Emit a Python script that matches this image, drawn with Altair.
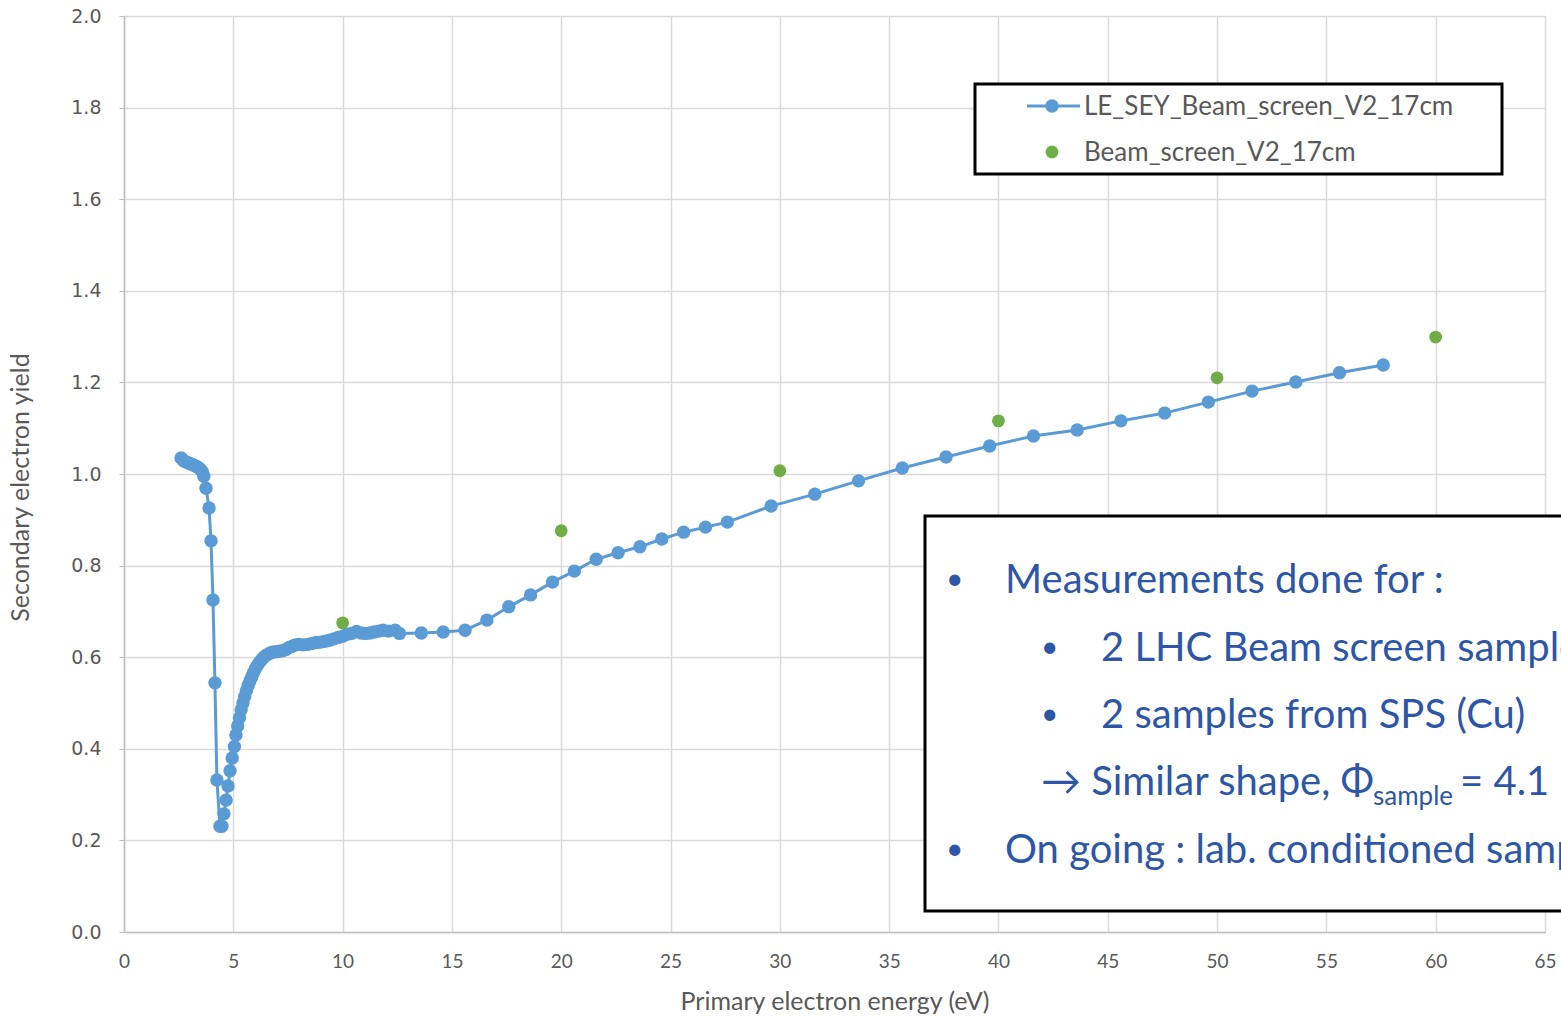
import altair as alt
import pandas as pd

# Low-energy SEY scan (blue, line + markers)
energy_scan = [
    2.61, 2.70, 2.80, 2.90, 3.00, 3.10, 3.20, 3.30, 3.40, 3.50, 3.58, 3.65,
    3.75, 3.89, 3.98, 4.07, 4.16, 4.25, 4.39, 4.48, 4.57, 4.67, 4.76, 4.85,
    4.95, 5.05, 5.12, 5.20, 5.28, 5.36, 5.44, 5.52, 5.60, 5.68, 5.76, 5.84,
    5.92, 6.00, 6.10, 6.20, 6.30, 6.40, 6.50, 6.60, 6.70, 6.80, 6.95, 7.10,
    7.25, 7.40, 7.55, 7.70, 7.85, 8.00, 8.20, 8.40, 8.60, 8.80, 9.00, 9.20,
    9.40, 9.60, 9.80, 10.00, 10.20, 10.40, 10.64, 10.85, 11.05, 11.25, 11.45,
    11.65, 11.85, 12.10, 12.40, 12.60, 13.60, 14.60, 15.60, 16.60, 17.60,
    18.60, 19.60, 20.60, 21.60, 22.60, 23.60, 24.60, 25.60, 26.60, 27.60,
    29.60, 31.60, 33.60, 35.60, 37.60, 39.60, 41.60, 43.60, 45.60, 47.60,
    49.60, 51.60, 53.60, 55.60, 57.60,
]
yield_scan = [
    1.035, 1.030, 1.027, 1.025, 1.023, 1.021, 1.019, 1.017, 1.014, 1.010, 1.005, 0.995,
    0.969, 0.926, 0.854, 0.725, 0.544, 0.332, 0.231, 0.231, 0.258, 0.288, 0.319, 0.352,
    0.380, 0.405, 0.430, 0.450, 0.468, 0.485, 0.500, 0.514, 0.527, 0.538, 0.548, 0.557,
    0.566, 0.574, 0.582, 0.589, 0.595, 0.600, 0.604, 0.607, 0.609, 0.611, 0.612, 0.613,
    0.614, 0.617, 0.621, 0.624, 0.627, 0.628, 0.627, 0.628, 0.630, 0.632, 0.633, 0.635,
    0.637, 0.640, 0.643, 0.646, 0.650, 0.652, 0.656, 0.653, 0.652, 0.653, 0.655,
    0.657, 0.659, 0.657, 0.659, 0.652, 0.653, 0.655, 0.659, 0.681, 0.710,
    0.736, 0.764, 0.788, 0.814, 0.828, 0.841, 0.858, 0.873, 0.884, 0.895,
    0.930, 0.956, 0.985, 1.013, 1.037, 1.061, 1.083, 1.096, 1.116, 1.133,
    1.157, 1.181, 1.201, 1.221, 1.238,
]

# Reference measurements (green markers)
energy_ref = [10, 20, 30, 40, 50, 60]
yield_ref = [0.675, 0.876, 1.007, 1.116, 1.210, 1.299]

series_names = ["LE_SEY_Beam_screen_V2_17cm", "Beam_screen_V2_17cm"]

note_lines = [
    "Measurements done for :",
    "2 LHC Beam screen samples",
    "2 samples from SPS (Cu)",
    "\u2192 Similar shape, \u03a6",
    "sample",
    "= 4.1 \u00b1 0.1 eV",
    "On going : lab. conditioned samples",
]

BLUE = "#5B9BD5"
GREEN = "#70AD47"
NOTE = "#2E56A6"
GREY = "#595959"
W, H = 1421, 916

scan = pd.DataFrame({"E": energy_scan, "Y": yield_scan, "i": range(len(energy_scan))})
ref = pd.DataFrame({"E": energy_ref, "Y": yield_ref})
one = pd.DataFrame({"k": [0]})

x_enc = alt.X(
    "E:Q",
    scale=alt.Scale(domain=[0, 65], nice=False, zero=True),
    axis=alt.Axis(
        values=list(range(0, 66, 5)),
        title="Primary electron energy (eV)",
        titleX=W / 2, titleY=69, titleBaseline="middle",
        labelFont="Lato", labelFontSize=19, labelColor=GREY, labelPadding=20, labelFlush=False,
        titleFont="Lato", titleFontSize=25, titleFontWeight="normal", titleColor=GREY,
        ticks=False, domainColor="#BFBFBF", domainWidth=1.5,
        gridColor="#D9D9D9", gridWidth=1.5,
    ),
)
y_enc = alt.Y(
    "Y:Q",
    scale=alt.Scale(domain=[0, 2], nice=False),
    axis=alt.Axis(
        values=[round(v * 0.2, 1) for v in range(11)],
        format=".1f",
        title="Secondary electron yield",
        titleX=-104, titleY=471, titleAngle=270, titleAlign="center", titleBaseline="middle",
        labelFont="DejaVu Sans", labelFontSize=19, labelColor=GREY, labelPadding=18, labelFlush=False,
        titleFont="Lato", titleFontSize=25, titleFontWeight="normal", titleColor=GREY,
        tickSize=5, tickColor="#BFBFBF", domainColor="#BFBFBF", domainWidth=1.5,
        gridColor="#D9D9D9", gridWidth=1.5,
    ),
)

line = alt.Chart(scan).mark_line(color=BLUE, strokeWidth=3).encode(x=x_enc, y=y_enc, order="i:Q")
pts = alt.Chart(scan).mark_circle(color=BLUE, size=180, opacity=1).encode(x="E:Q", y="Y:Q")
green = alt.Chart(ref).mark_circle(color=GREEN, size=165, opacity=1).encode(x="E:Q", y="Y:Q")

# Legend box
leg_box = alt.Chart(one).mark_rect(fill="white", stroke="black", strokeWidth=3).encode(
    x=alt.value(851), x2=alt.value(1378), y=alt.value(68), y2=alt.value(158))
leg_line = alt.Chart(one).mark_rule(color=BLUE, strokeWidth=3).encode(
    x=alt.value(903), x2=alt.value(956), y=alt.value(90))
leg_dot1 = alt.Chart(one).mark_circle(color=BLUE, size=180, opacity=1).encode(
    x=alt.value(928), y=alt.value(90))
leg_dot2 = alt.Chart(one).mark_circle(color=GREEN, size=165, opacity=1).encode(
    x=alt.value(928), y=alt.value(136))
leg_txt1 = alt.Chart(one).mark_text(
    text=series_names[0], align="left", baseline="middle", font="Lato", fontSize=26, color=GREY
).encode(x=alt.value(960), y=alt.value(91))
leg_txt2 = alt.Chart(one).mark_text(
    text=series_names[1], align="left", baseline="middle", font="Lato", fontSize=26, color=GREY
).encode(x=alt.value(960), y=alt.value(137))

# Note box with bullet list
note_box = alt.Chart(one).mark_rect(fill="white", stroke="black", strokeWidth=3).encode(
    x=alt.value(801), x2=alt.value(1500), y=alt.value(500), y2=alt.value(895))


def note(text, x, y, size=40):
    return alt.Chart(one).mark_text(
        text=text, align="left", baseline="middle", font="Lato", fontSize=size, color=NOTE
    ).encode(x=alt.value(x), y=alt.value(y))


notes = [
    note("\u2022", 822, 564, 30),
    note(note_lines[0], 881, 565),
    note("\u2022", 917, 632, 30),
    note(note_lines[1], 977, 633),
    note("\u2022", 917, 699, 30),
    note(note_lines[2], 977, 700),
    note(note_lines[3], 917, 767),
    note(note_lines[4], 1249, 781, 26),
    note(note_lines[5], 1336, 767),
    note("\u2022", 822, 834, 30),
    note(note_lines[6], 881, 835),
]

chart = alt.layer(
    line, pts, green, leg_box, leg_line, leg_dot1, leg_dot2, leg_txt1, leg_txt2, note_box, *notes
).properties(
    width=W, height=H,
    autosize=alt.AutoSizeParams(type="none"),
    padding={"left": 124, "top": 16, "right": 16, "bottom": 82},
).configure_view(stroke=None).configure(background="white")

chart.save("out.html", embed_options={"renderer": "svg", "actions": False})
